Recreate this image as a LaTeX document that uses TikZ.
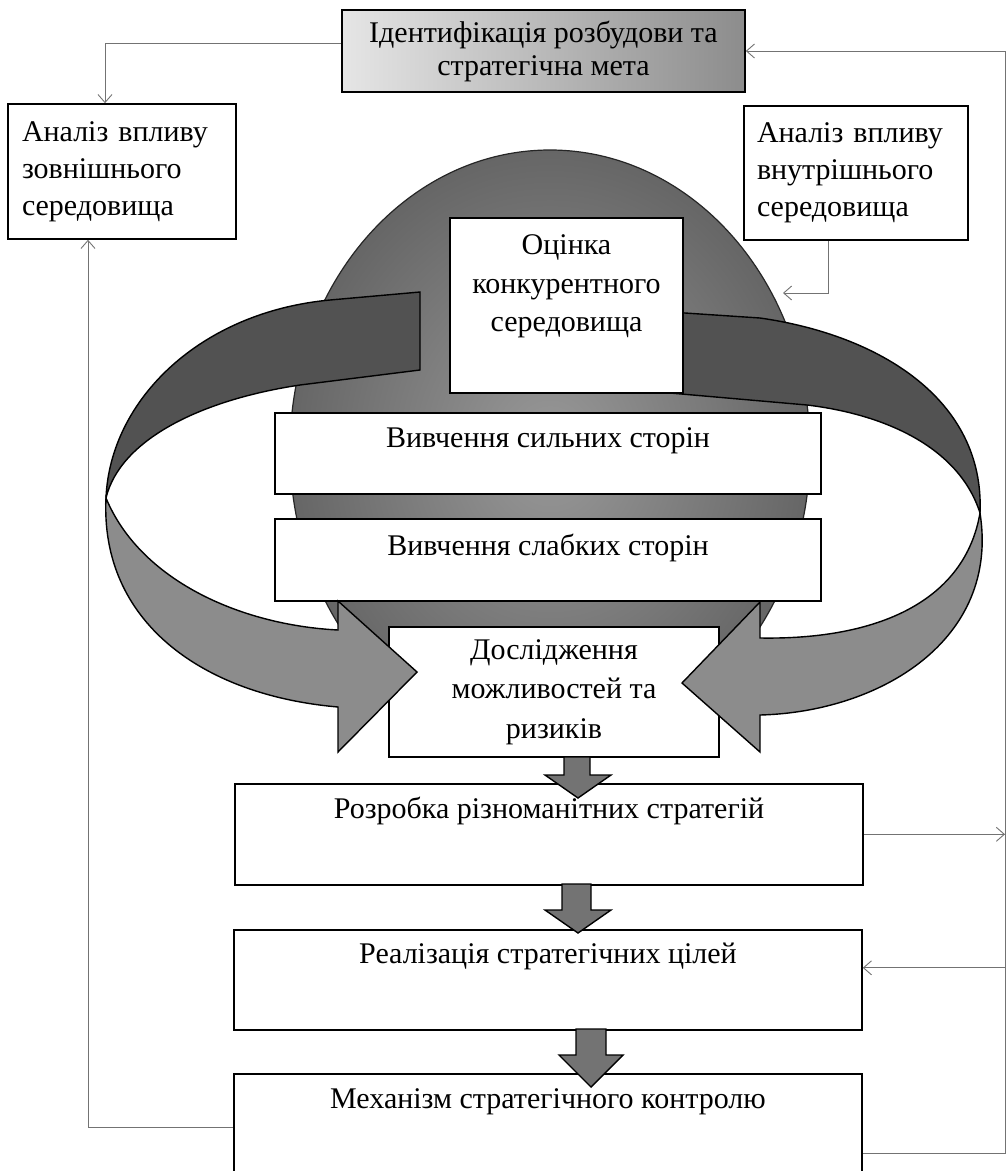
\documentclass[tikz,border=0pt]{standalone}
\usepackage{fontspec}
\setmainfont{Liberation Serif}
\usetikzlibrary{arrows.meta}

\begin{document}
\begin{tikzpicture}[x=1pt, y=-1pt,
  font=\fontsize{30}{37}\selectfont,
  box/.style={draw, line width=1.6pt, fill=white, inner sep=0pt},
  link/.style={draw=black!55, line width=0.9pt, -{Straight Barb[length=8pt, width=14pt]}},
  upperband/.style={fill=black!68, draw=black, line width=1.4pt},
  lowerband/.style={fill=black!45, draw=black, line width=1.4pt},
  blockarrow/.style={fill=black!55, draw=black, line width=1.4pt}]

  \path[use as bounding box, fill=white] (0,0) rectangle (1007,1171);

  % Oval and upper parts of the ring arrows
  \draw[draw=black!85, line width=1.2pt, inner color=black!40, outer color=black!60]
    (550,450) ellipse [x radius=260pt, y radius=300pt];
  \draw[upperband] (420,292) -- (330,300) .. controls (200,312) and (110,400) .. (106,498)
    .. controls (120,440) and (200,400) .. (300,385) -- (420,370) -- cycle;
  \draw[upperband] (670,312) -- (760,318) .. controls (880,335) and (985,400) .. (980,513)
    .. controls (960,450) and (890,415) .. (807,405) -- (670,393) -- cycle;

  % Boxes
  \node[box, left color=black!10, right color=black!45, minimum width=403pt, minimum height=82pt,
    align=center, font=\fontsize{30}{33}\selectfont] (ident) at (543.5,51)
    {Ідентифікація розбудови та\\стратегічна мета};
  \node[box, text width=200pt, inner xsep=14pt, minimum height=135pt, align=left] (zovn) at (122,171.5)
    {Аналіз впливу\\зовнішнього\\середовища};
  \node[box, text width=198pt, inner xsep=13pt, minimum height=134pt, align=left] (vnutr) at (856,173)
    {Аналіз впливу\\внутрішнього\\середовища};
  \node[box, minimum width=233pt, minimum height=175pt,
    label={[anchor=north, align=center, yshift=-14pt, font=\fontsize{30}{38.5}\selectfont]north:Оцінка\\конкурентного\\середовища}]
    (ocinka) at (566.5,305.5) {};
  \node[box, anchor=north, minimum width=546pt, text height=35pt, text depth=46pt] (strong) at (548,412)
    {Вивчення сильних сторін};
  \node[box, anchor=north, minimum width=546pt, text height=37pt, text depth=45pt] (weak) at (548,518)
    {Вивчення слабких сторін};
  \node[box, minimum width=330pt, minimum height=130pt, align=center,
    font=\fontsize{30}{39.5}\selectfont] (doslid) at (554,692)
    {Дослідження\\можливостей та\\ризиків};

  % Lower parts of the ring arrows
  \draw[lowerband] (106,498) .. controls (100,620) and (200,695) .. (338,707) -- (338,752)
    -- (417,672) -- (338,601) -- (338,630) .. controls (240,625) and (140,580) .. (106,498) -- cycle;
  \draw[lowerband] (980,513) .. controls (1000,640) and (880,712) .. (760,715) -- (760,752)
    -- (682,683) -- (760,602) -- (760,638) .. controls (880,640) and (965,600) .. (980,513) -- cycle;

  \node[box, anchor=north, minimum width=628pt, text height=35pt, text depth=66pt] (rozrob) at (549,783)
    {Розробка різноманітних стратегій};
  \node[box, anchor=north, minimum width=628pt, text height=34pt, text depth=66pt] (realiz) at (548,929)
    {Реалізація стратегічних цілей};
  \node[box, anchor=north, minimum width=628pt, text height=35pt, text depth=72pt] (kontrol) at (548,1073)
    {Механізм стратегічного контролю};

  % Block arrows
  \draw[blockarrow] (564,757) -- (564,775) -- (545,775) -- (578,798) -- (611,775) -- (590,775) -- (590,757) -- cycle;
  \draw[blockarrow] (562,884) -- (562,910) -- (545,910) -- (578,933) -- (611,910) -- (591,910) -- (591,884) -- cycle;
  \draw[blockarrow] (576,1029) -- (576,1055) -- (559,1055) -- (591,1087) -- (623,1055) -- (606,1055) -- (606,1029) -- cycle;

  % Feedback lines
  \coordinate (busT) at (1005,51);
  \coordinate (busB) at (1005,1153);
  \coordinate (ovalR) at (783,293);
  \draw[link] ([yshift=8pt]ident.west) -| ([xshift=-17pt]zovn.north);
  \draw[link] (kontrol.east |- busB) -| (busT) -- (ident.east);
  \draw[link] (rozrob.east) -- (rozrob.east -| busT);
  \draw[link] ([yshift=12pt]realiz.east -| busT) -- ([yshift=12pt]realiz.east);
  \draw[link] ([xshift=-28pt]vnutr.south) |- (ovalR);
  \draw[link] (kontrol.west) -| ([xshift=-34pt]zovn.south);
\end{tikzpicture}
\end{document}
